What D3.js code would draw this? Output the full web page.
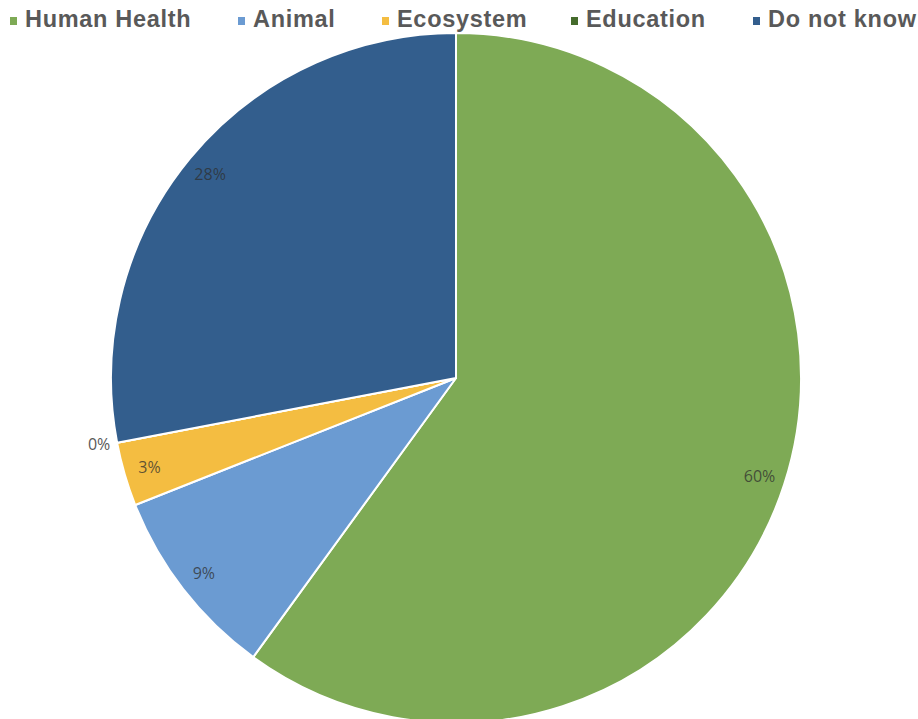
<!DOCTYPE html>
<html>
<head>
<meta charset="utf-8">
<script src="https://cdn.jsdelivr.net/npm/d3@7"></script>
<style>
  html, body { margin: 0; padding: 0; background: #ffffff; overflow: hidden; }
  svg { display: block; }
</style>
</head>
<body>
<svg id="chart" width="918" height="719"></svg>
<script>
// Share of responses by category (percent)
const categories = ["Human Health", "Animal", "Ecosystem", "Education", "Do not know"];
const values = [60, 9, 3, 0, 28];
const colors = ["#7eaa55", "#6b9bd2", "#f4bd41", "#456b2c", "#335e8d"];

const width = 918, height = 719;
const cx = 456, cy = 378, radius = 345;

const svg = d3.select("#chart");

const color = d3.scaleOrdinal().domain(categories).range(colors);

const pie = d3.pie()
  .value(d => d.value)
  .sort(null)
  .startAngle(0)
  .endAngle(2 * Math.PI);

const data = categories.map((c, i) => ({ name: c, value: values[i] }));
const arcs = pie(data);

const arc = d3.arc().innerRadius(0).outerRadius(radius);
const labelArc = d3.arc().innerRadius(radius * 0.925).outerRadius(radius * 0.925);
const outerArc = d3.arc().innerRadius(radius * 1.02).outerRadius(radius * 1.02);

const g = svg.append("g").attr("transform", `translate(${cx},${cy})`);

g.selectAll("path.slice")
  .data(arcs)
  .join("path")
  .attr("class", "slice")
  .attr("d", arc)
  .attr("fill", d => color(d.data.name))
  .attr("stroke", "#ffffff")
  .attr("stroke-width", 2)
  .attr("stroke-linejoin", "round");

// Data labels: inside the rim, zero-sized slices get their label just outside
g.selectAll("text.label")
  .data(arcs)
  .join("text")
  .attr("class", "label")
  .attr("transform", d => {
    const p = d.data.value === 0 ? outerArc.centroid(d) : labelArc.centroid(d);
    return `translate(${p[0]},${p[1]})`;
  })
  .attr("text-anchor", d => d.data.value === 0 ? "end" : "middle")
  .attr("dy", "0.35em")
  .attr("font-family", "'Open Sans', 'Noto Sans', sans-serif")
  .attr("font-size", 16)
  .attr("fill", d => d.data.value === 0 ? "#595959" : "#2e2e2e")
  .attr("fill-opacity", d => d.data.value === 0 ? 1 : 0.75)
  .text(d => d.data.value + "%");

// Legend across the top
const legendX = [10, 238, 382, 571, 753];
const legend = svg.append("g").attr("class", "legend");
const items = legend.selectAll("g.item")
  .data(categories)
  .join("g")
  .attr("class", "item")
  .attr("transform", (d, i) => `translate(${legendX[i]},0)`);

items.append("rect")
  .attr("x", 0)
  .attr("y", 17)
  .attr("width", 7)
  .attr("height", 8)
  .attr("fill", d => color(d));

items.append("text")
  .attr("x", 15)
  .attr("y", 27)
  .attr("font-family", "'Liberation Sans', Arial, sans-serif")
  .attr("font-weight", "bold")
  .attr("font-size", 23.5)
  .attr("letter-spacing", 0.7)
  .attr("fill", "#595959")
  .text(d => d);
</script>
</body>
</html>
